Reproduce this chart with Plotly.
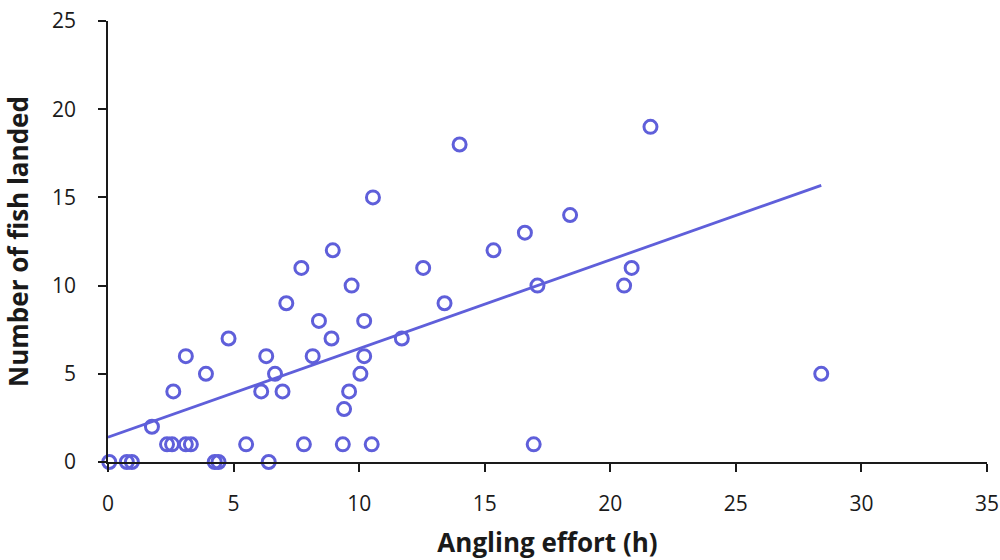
import numpy as np
import plotly.graph_objects as go

# Angling effort (h) and number of fish landed
effort = [0.05, 0.75, 0.95, 4.25, 4.4, 6.4,
          2.35, 2.55, 3.1, 3.3, 5.5, 7.8, 9.35, 10.5, 16.95,
          1.75, 9.4,
          2.6, 6.1, 6.95, 9.6,
          3.9, 6.65, 10.05, 28.4,
          3.1, 6.3, 8.15, 10.2,
          4.8, 8.9, 11.7,
          8.4, 10.2,
          7.1, 13.4,
          9.7, 17.1, 20.55,
          7.7, 12.55, 20.85,
          8.95, 15.35,
          16.6, 18.4, 10.55, 14.0, 21.6]
fish = [0, 0, 0, 0, 0, 0,
        1, 1, 1, 1, 1, 1, 1, 1, 1,
        2, 3,
        4, 4, 4, 4,
        5, 5, 5, 5,
        6, 6, 6, 6,
        7, 7, 7,
        8, 8,
        9, 9,
        10, 10, 10,
        11, 11, 11,
        12, 12,
        13, 14, 15, 18, 19]

x_range = [0, 35]
y_range = [0, 25]
x_ticks = [0, 5, 10, 15, 20, 25, 30, 35]
y_ticks = [0, 5, 10, 15, 20, 25]

color = "#5F5FDA"

slope, intercept = np.polyfit(effort, fish, 1)
trend_x = np.array([0, max(effort)])
trend_y = slope * trend_x + intercept

fig = go.Figure()
fig.add_trace(go.Scatter(
    x=trend_x, y=trend_y, mode="lines",
    line=dict(color=color, width=2.8), cliponaxis=False, showlegend=False,
))
fig.add_trace(go.Scatter(
    x=effort, y=fish, mode="markers",
    marker=dict(symbol="circle-open", size=13, color=color, line=dict(width=3, color=color)),
    cliponaxis=False, showlegend=False,
))

font_family = "Open Sans, Liberation Sans, sans-serif"
fig.update_layout(
    width=1000, height=560,
    margin=dict(l=108, r=13, t=21, b=98),
    plot_bgcolor="white", paper_bgcolor="white",
    font=dict(family=font_family, size=21, color="#1a1a1a"),
)
fig.update_xaxes(
    range=x_range, tickvals=x_ticks, showgrid=False, zeroline=False,
    showline=True, linecolor="#1a1a1a", linewidth=1.5,
    ticks="outside", ticklen=8, tickwidth=1.5, tickcolor="#1a1a1a",
    ticklabelstandoff=14, automargin=False,
    title=dict(text="<b>Angling effort (h)</b>", font=dict(size=26, family=font_family), standoff=20),
)
fig.update_yaxes(
    range=y_range, tickvals=y_ticks, showgrid=False, zeroline=False,
    showline=True, linecolor="#1a1a1a", linewidth=1.5,
    ticks="outside", ticklen=8, tickwidth=1.5, tickcolor="#1a1a1a",
    ticklabelstandoff=18, automargin=False,
    title=dict(text="<b>Number of fish landed</b>", font=dict(size=26, family=font_family), standoff=16),
)

fig.write_html("out.html")
